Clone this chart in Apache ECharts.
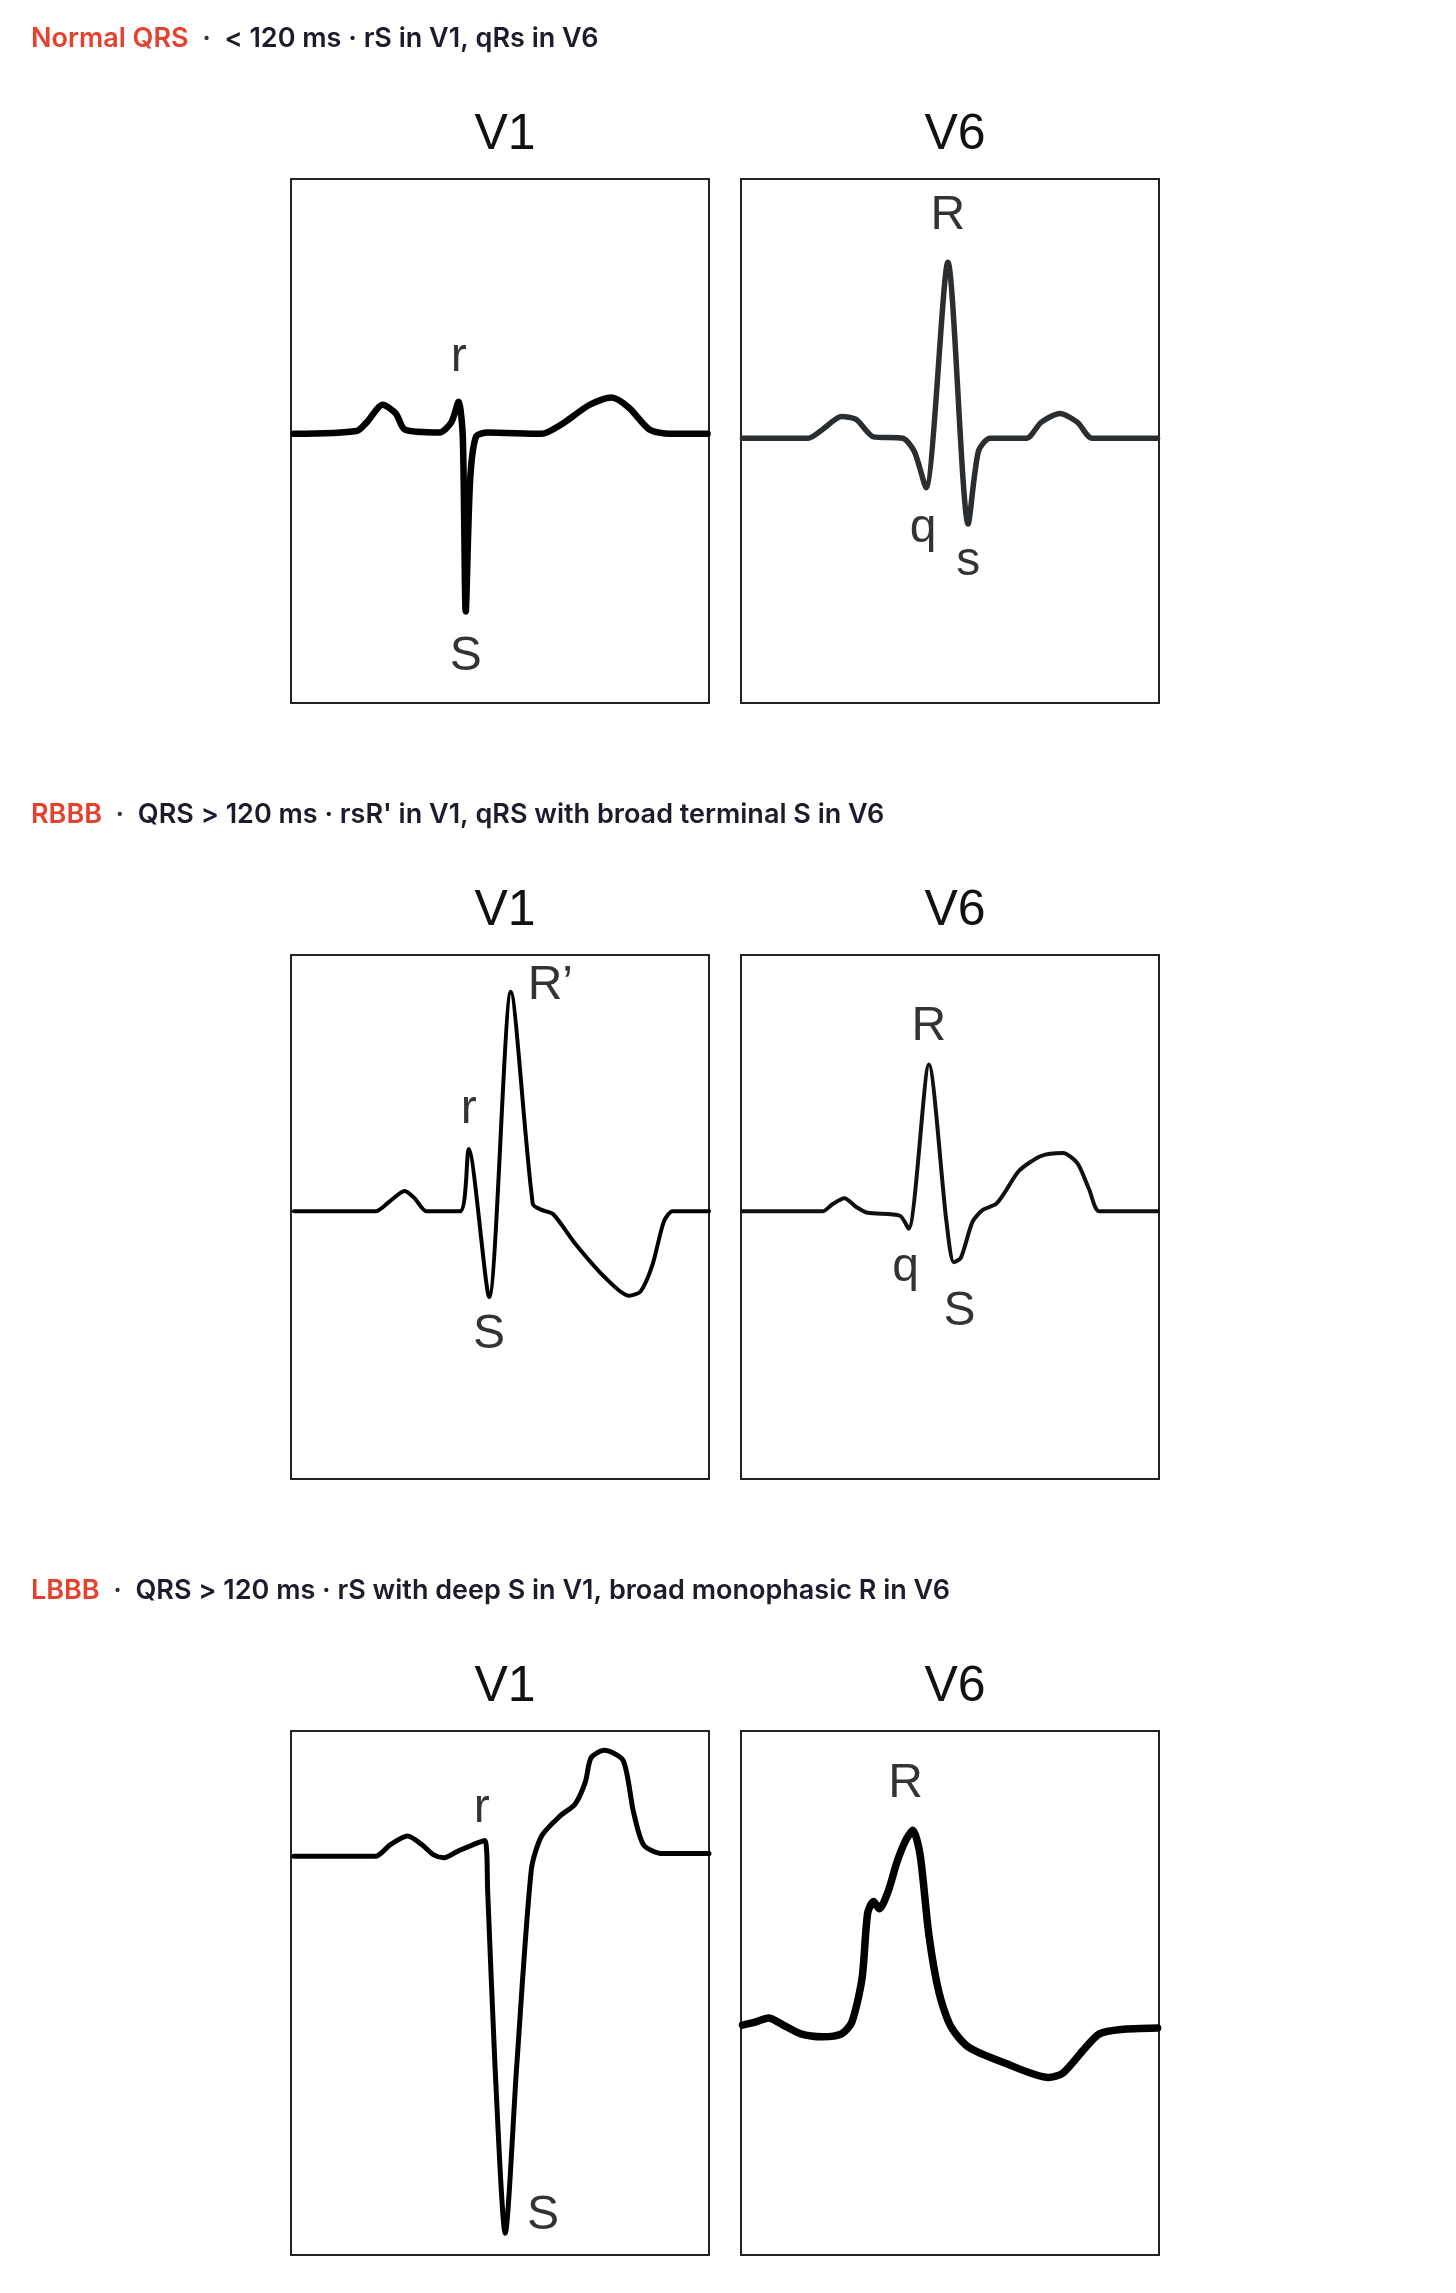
<!DOCTYPE html>
<html>
<head>
<meta charset="utf-8">
<script src="https://cdn.jsdelivr.net/npm/echarts@6/dist/echarts.min.js"></script>
<style>
  html, body { margin: 0; padding: 0; background: #fff; }
  #chart { width: 1456px; height: 2293px; }
</style>
</head>
<body>
<div id="chart"></div>
<script>
// grid units: x 0-20, y 0-25 (small squares)
const normalV1 = [[0.14,12.84],[3.14,12.98],[3.62,13.39],[4.39,14.23],[5.02,13.81],[5.44,13.05],[7.11,12.91],[7.67,13.39],[8.02,14.37],[8.22,12.7],[8.36,4.37],[8.57,10.62],[8.85,12.7],[9.41,12.91],[11.99,12.84],[12.89,13.26],[14.29,14.23],[15.33,14.57],[16.17,14.09],[17.15,13.05],[18.12,12.84],[19.93,12.84]];
const normalV6 = [[0.07,12.63],[3.21,12.63],[3.9,13.05],[4.81,13.67],[5.51,13.53],[6.34,12.7],[7.74,12.63],[8.29,12.01],[8.85,10.27],[9.9,21.03],[10.87,8.54],[11.36,12.01],[11.92,12.63],[13.66,12.63],[14.36,13.39],[15.26,13.81],[16.1,13.39],[16.8,12.63],[19.93,12.63]];
const rbbbV1 = [[0.14,12.77],[4.04,12.77],[4.74,13.26],[5.44,13.74],[5.92,13.39],[6.48,12.77],[8.09,12.77],[8.5,15.75],[9.48,8.68],[10.52,23.25],[11.57,13.12],[11.99,12.84],[12.55,12.63],[13.59,11.24],[14.99,9.65],[16.17,8.74],[16.73,8.95],[17.29,10.2],[17.84,12.28],[18.26,12.77],[20,12.77]];
const rbbbV6 = [[0.07,12.77],[3.9,12.77],[4.39,13.12],[4.95,13.39],[5.51,12.98],[6.06,12.7],[7.6,12.56],[8.02,11.94],[8.99,19.78],[9.83,12.28],[10.18,10.34],[10.52,10.55],[11.08,12.28],[11.57,12.84],[12.2,13.12],[12.62,13.67],[13.31,14.71],[14.36,15.41],[15.4,15.55],[16.1,15.06],[16.66,13.81],[17.15,12.77],[19.93,12.77]];
const lbbbV1 = [[0.14,19.02],[4.04,19.02],[4.74,19.57],[5.58,19.99],[6.27,19.57],[6.83,19.09],[7.32,18.95],[8.02,19.29],[9.27,19.78],[9.41,17.35],[9.76,9.02],[10.25,1.04],[10.8,9.02],[11.5,18.39],[11.99,19.99],[12.89,20.96],[13.59,21.51],[14.08,22.56],[14.36,23.73],[14.99,24.08],[15.89,23.6],[16.38,21.17],[16.87,19.57],[17.77,19.15],[20,19.15]];
const lbbbV6 = [[0.07,10.97],[0.63,11.1],[1.32,11.31],[2.02,10.97],[2.86,10.55],[3.9,10.41],[4.81,10.55],[5.3,11.1],[5.79,13.19],[6.06,16.31],[6.34,16.86],[6.62,16.52],[7.04,17.35],[7.46,18.74],[7.88,19.78],[8.22,20.26],[8.57,19.09],[8.99,15.27],[9.48,12.49],[10.04,10.9],[10.87,9.93],[12.62,9.16],[14.71,8.47],[15.4,8.68],[16.45,9.86],[17.15,10.55],[18.19,10.76],[19.93,10.83]];

const labelsNormalV1 = [[8.02,16.45,'r'],[8.36,2.22,'S']];
const labelsNormalV6 = [[9.9,23.25,'R'],[8.71,8.33,'q'],[10.87,6.73,'s']];
const labelsRbbbV1 = [[8.5,17.63,'r'],[9.48,6.87,'S'],[12.41,23.53,'R’']];
const labelsRbbbV6 = [[8.99,21.58,'R'],[7.88,10.06,'q'],[10.45,7.98,'S']];
const labelsLbbbV1 = [[9.13,21.31,'r'],[12.06,1.87,'S']];
const labelsLbbbV6 = [[7.88,22.49,'R']];

const rows = [
  { name: 'Normal QRS', desc: '< 120 ms · rS in V1, qRs in V6', top: 179, head: 36,
    v1: normalV1, v6: normalV6, l1: labelsNormalV1, l6: labelsNormalV6, w1: 6.5, w6: 5.5, c6: '#2b2e31' },
  { name: 'RBBB', desc: "QRS > 120 ms · rsR' in V1, qRS with broad terminal S in V6", top: 955, head: 812,
    v1: rbbbV1, v6: rbbbV6, l1: labelsRbbbV1, l6: labelsRbbbV6, w1: 4, w6: 4, c6: '#111' },
  { name: 'LBBB', desc: 'QRS > 120 ms · rS with deep S in V1, broad monophasic R in V6', top: 1731, head: 1588,
    v1: lbbbV1, v6: lbbbV6, l1: labelsLbbbV1, l6: labelsLbbbV6, w1: 5, w6: 7.5, c6: '#000' }
];

const chart = echarts.init(document.getElementById('chart'));
const grids = [], xAxes = [], yAxes = [], series = [], titles = [];
const lefts = [291, 741];
const W = 418, H = 524;

rows.forEach((row, r) => {
  titles.push({
    left: 26, top: row.head - 16,
    text: '{a|' + row.name + '}{b|  ·  }{c|' + row.desc + '}',
    textStyle: { rich: {
      a: { color: '#e5412f', fontSize: 27, fontWeight: 600, fontFamily: 'Inter' },
      b: { color: '#333', fontSize: 27, fontWeight: 600, fontFamily: 'Inter' },
      c: { color: '#1c1c2c', fontSize: 27, fontWeight: 600, fontFamily: 'Inter' }
    } }
  });
  ['V1', 'V6'].forEach((lead, k) => {
    const gi = grids.length;
    grids.push({ left: lefts[k], top: row.top, width: W, height: H, show: true,
      borderColor: '#222', borderWidth: 2, backgroundColor: '#fff', z: 3 });
    titles.push({ text: lead, left: lefts[k] + W / 2, top: row.top - 74, textAlign: 'center',
      textStyle: { fontSize: 50, fontWeight: 'normal', color: '#111', fontFamily: 'Liberation Sans' } });
    const axisCommon = {
      gridIndex: gi, type: 'value', interval: 5,
      axisLine: { show: false }, axisTick: { show: false }, axisLabel: { show: false },
      splitLine: { show: true, showMinLine: false, showMaxLine: false, lineStyle: { color: '#d9d9d9', width: 1.5 } },
      minorTick: { show: false, splitNumber: 5 },
      minorSplitLine: { show: true, lineStyle: { color: '#ebebeb', width: 1 } }
    };
    xAxes.push(Object.assign({}, axisCommon, { min: 0, max: 20 }));
    yAxes.push(Object.assign({}, axisCommon, { min: 0, max: 25 }));
    series.push({
      type: 'line', xAxisIndex: gi, yAxisIndex: gi, z: 5,
      data: k === 0 ? row.v1 : row.v6, smooth: 0.25, symbol: 'none',
      lineStyle: { color: k === 0 ? '#000' : row.c6, width: k === 0 ? row.w1 : row.w6, join: 'round', cap: 'round' }
    });
    series.push({
      type: 'scatter', xAxisIndex: gi, yAxisIndex: gi, symbolSize: 0, z: 6,
      data: (k === 0 ? row.l1 : row.l6).map(d => ({ value: [d[0], d[1]], name: d[2] })),
      label: { show: true, position: 'inside', formatter: p => p.name,
        fontSize: 48, color: '#000', fontFamily: 'Liberation Sans' }
    });
  });
});

chart.setOption({
  animation: false,
  title: titles,
  grid: grids,
  xAxis: xAxes,
  yAxis: yAxes,
  series: series
});
</script>
</body>
</html>
